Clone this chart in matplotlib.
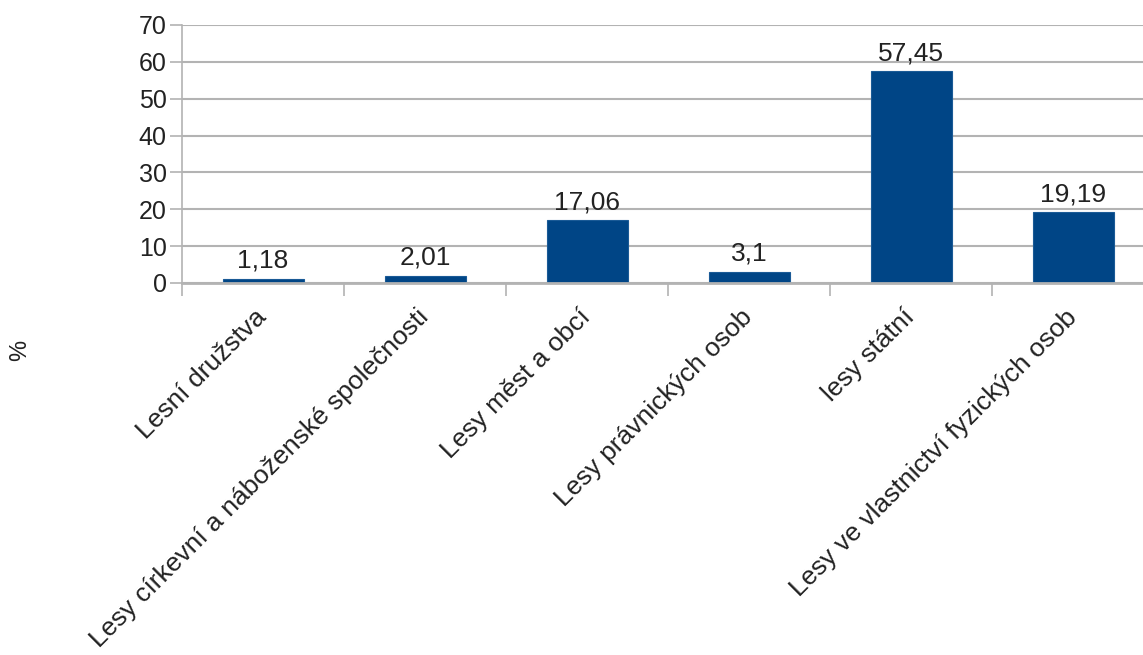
import matplotlib
matplotlib.use("Agg")
import matplotlib.pyplot as plt
import numpy as np

categories = ["Lesní družstva",
              "Lesy církevní a náboženské společnosti",
              "Lesy měst a obcí",
              "Lesy právnických osob",
              "lesy státní",
              "Lesy ve vlastnictví fyzických osob"]
values = [1.18, 2.01, 17.06, 3.1, 57.45, 19.19]
yticks = [0, 10, 20, 30, 40, 50, 60, 70]

plt.rcParams['font.family'] = ['Liberation Sans', 'DejaVu Sans']

fig = plt.figure(figsize=(11.43, 6.55), dpi=100)
# plot area runs a bit past the right edge, like the reference
ax = fig.add_axes([182/1143, 372/655, 972/1143, 258/655])

x = np.arange(len(categories))
ax.bar(x, values, width=0.5, color='#004586', edgecolor='#1a5a96', linewidth=0.8, zorder=3)

for xi, v in zip(x, values):
    lbl = ('%g' % v).replace('.', ',')
    ax.annotate(lbl, (xi, v), xytext=(0, 8), textcoords='offset points',
                ha='center', va='baseline', fontsize=19, color='#222222')

ax.set_xlim(-0.5, len(categories) - 0.5)
ax.set_ylim(0, 70)
ax.set_yticks(yticks)
ax.set_yticklabels([str(t) for t in yticks], fontsize=18, color='#222222')
ax.yaxis.grid(True, color='#b3b3b3', linewidth=1.5, zorder=0)

# ticks at category boundaries, labels at centres
ax.set_xticks(np.arange(len(categories) + 1) - 0.5)
ax.set_xticklabels([])
ax.set_xticks(x, minor=True)
ax.set_xticklabels(categories, minor=True, rotation=45, ha='right', va='center',
                   rotation_mode='anchor', fontsize=19, color='#222222')
ax.tick_params(axis='x', which='major', length=9, width=1.2, color='#b3b3b3', direction='out')
ax.tick_params(axis='x', which='minor', length=0, pad=22)
ax.tick_params(axis='y', length=9, width=1.2, color='#b3b3b3', pad=2)

for s in ['top', 'right']:
    ax.spines[s].set_visible(False)
ax.spines['left'].set_color('#b3b3b3')
ax.spines['left'].set_linewidth(1.2)
ax.spines['bottom'].set_color('#b3b3b3')
ax.spines['bottom'].set_linewidth(2)
ax.spines['bottom'].set_zorder(4)

fig.text(20/1143, 1 - 350/655, '%', rotation=90, ha='center', va='center',
         fontsize=17, color='#222222')

fig.savefig('out.png', dpi=100)
